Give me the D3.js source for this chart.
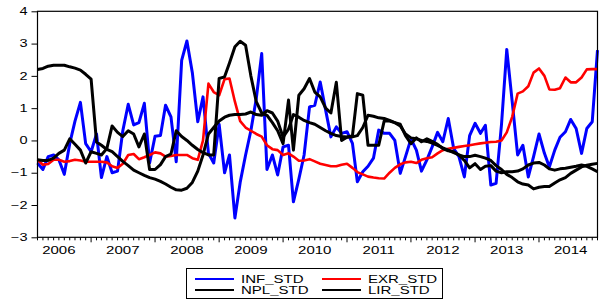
<!DOCTYPE html>
<html>
<head>
<meta charset="utf-8">
<script src="https://cdn.jsdelivr.net/npm/d3@7"></script>
<style>
  body { margin: 0; background: #fff; }
  text { font-family: "Liberation Sans", Arial, sans-serif; font-size: 10px; fill: #000; }
</style>
</head>
<body>
<div id="chart"></div>
<script>
var width = 601, height = 300

// monthly observations 2006M03 .. 2014M12
var startMonth = new Date(2006, 2, 1), endMonth = new Date(2014, 11, 1)
var months = d3.timeMonth.range(startMonth, d3.timeMonth.offset(endMonth, 1))
var yearLabels = ["2006", "2007", "2008", "2009", "2010", "2011", "2012", "2013", "2014"]
var yTicks = [-3, -2, -1, 0, 1, 2, 3, 4]

var infStd = [-0.7, -0.9, -0.5, -0.45, -0.6, -1.05, -0.1, 0.6, 1.18, -0.1,
  -0.35, 0.2, -1.15, -0.5, -1.0, -0.95, 0.3, 1.12, 0.48, 0.55,
  1.15, -0.7, 0.13, 0.15, 1.09, 0.73, -0.66, 2.48, 3.08, 2.1,
  0.58, 1.35, -0.4, -0.7, 0.5, -1.0, -0.45, -2.4, -1.3, -0.45,
  0.3, 1.3, 2.69, -0.9, -0.45, -1.07, -0.2, -0.15, -1.9, -1.2,
  -0.45, 1.04, 1.09, 1.81, 0.94, 0.11, 0.42, 0.22, 0.27, -0.09,
  -1.28, -0.97, -0.8, -0.55, 0.32, 0.22, 0.22, 0.0, -1.02, -0.5,
  0.05, -0.3, -0.95, -0.6, -0.2, 0.25, -0.04, 0.68, -0.25, -0.5,
  -1.13, 0.15, 0.53, 0.22, 0.47, -1.38, -1.33, 0.5, 2.82, 1.2,
  -0.45, -0.15, -1.13, -0.5, 0.2, -0.4, -0.82, -0.3, 0.1, 0.27,
  0.65, 0.37, -0.4, 0.37, 0.58, 2.8]

var exrStd = [-0.6, -0.75, -0.73, -0.6, -0.6, -0.66, -0.64, -0.6, -0.62, -0.66,
  -0.66, -0.66, -0.66, -0.68, -0.8, -0.85, -0.72, -0.45, -0.42, -0.58,
  -0.52, -0.45, -0.37, -0.4, -0.5, -0.48, -0.45, -0.45, -0.45, -0.55,
  -0.6, 0.0, 1.76, 1.5, 1.4, 1.9, 1.92, 1.2, 0.6, 0.4,
  0.3, 0.2, 0.12, -0.15, -0.27, -0.3, -0.45, -0.4, -0.5, -0.63,
  -0.62, -0.58, -0.65, -0.72, -0.76, -0.8, -0.8, -0.75, -0.72, -0.85,
  -0.98, -1.05, -1.12, -1.15, -1.17, -1.18, -1.0, -0.85, -0.74, -0.68,
  -0.66, -0.7, -0.6, -0.55, -0.52, -0.4, -0.3, -0.26, -0.23, -0.2,
  -0.17, -0.15, -0.12, -0.09, -0.07, -0.05, -0.04, 0.0, 0.25, 0.73,
  1.45, 1.52, 1.68, 2.1, 2.23, 2.0, 1.58, 1.57, 1.62, 1.95,
  1.8, 1.8, 1.95, 2.2, 2.21, 2.21]

var nplStd = [-0.6, -0.62, -0.62, -0.55, -0.4, -0.3, 0.05, -0.12, -0.3, -0.7,
  -0.35, -0.4, -0.45, -0.25, 0.45, 0.25, 0.12, 0.3, 0.2, -0.2,
  0.2, -0.9, -0.9, -0.75, -0.5, -0.42, 0.3, 0.12, 0.0, -0.15,
  -0.28, -0.38, -0.45, -0.45, 1.92, 1.97, 2.4, 2.9, 3.07, 2.95,
  2.0, 1.2, 0.85, 0.78, 0.55, 0.3, -0.1, 1.25, -0.3, 1.4,
  1.6, 1.92, 1.5, 1.35, 1.0, 0.85, 1.8, 0.0, 0.1, 0.15,
  1.45, 1.4, -0.15, -0.15, -0.15, 0.6, 0.6, 0.55, 0.5, 0.15,
  -0.1, 0.08, -0.04, 0.05, -0.03, -0.12, -0.25, -0.32, -0.35, -0.45,
  -0.62, -0.85, -0.72, -0.9, -0.8, -0.78, -0.95, -1.0, -0.97, -0.97,
  -0.95, -0.88, -0.76, -0.7, -0.68, -0.76, -0.88, -0.92, -0.88, -0.86,
  -0.83, -0.8, -0.76, -0.8, -0.88, -0.97]

var lirStd = [2.2, 2.23, 2.3, 2.33, 2.33, 2.33, 2.28, 2.24, 2.18, 2.05,
  1.9, -0.05, -0.15, -0.28, -0.35, -0.5, -0.65, -0.78, -0.92, -1.0,
  -1.08, -1.15, -1.2, -1.27, -1.35, -1.45, -1.53, -1.54, -1.48, -1.3,
  -0.95, -0.45, 0.2, 0.4, 0.6, 0.72, 0.78, 0.8, 0.8, 0.82,
  0.88, 0.8, 0.78, 0.92, 0.85, 0.6, 0.1, 0.35, 0.8, 0.72,
  0.62, 0.55, 0.5, 0.4, 0.3, 0.22, 0.15, 0.12, 0.11, 0.11,
  0.15, 0.4, 0.78, 0.75, 0.7, 0.68, 0.62, 0.55, 0.45, 0.2,
  0.08, 0.05, 0.0, -0.03, -0.08, -0.15, -0.23, -0.3, -0.38, -0.45,
  -0.5, -0.5, -0.46, -0.5, -0.55, -0.62, -0.78, -0.9, -1.05, -1.15,
  -1.28, -1.35, -1.38, -1.5, -1.45, -1.43, -1.43, -1.32, -1.22, -1.15,
  -1.02, -0.92, -0.82, -0.77, -0.74, -0.71]

var seriesNames = ["INF_STD", "EXR_STD", "NPL_STD", "LIR_STD"]
var seriesColors = ["#0000ff", "#ff0000", "#000000", "#000000"]
var seriesValues = [infStd, exrStd, nplStd, lirStd]

// text in the source is stretched sideways
function stretch(sel, k) {
  sel.each(function() {
    var w = this.getComputedTextLength()
    d3.select(this).attr("textLength", w * k).attr("lengthAdjust", "spacingAndGlyphs")
  })
}

var svg = d3.select("#chart").append("svg")
    .attr("width", width)
    .attr("height", height)

var x = d3.scaleTime()
    .domain([startMonth, endMonth])
    .range([37.5, 597.5])
var y = d3.scaleLinear()
    .domain([-3, 4])
    .range([237.3, 11.3])

// y axis
var yAxis = svg.append("g")
    .attr("transform", "translate(37.5,0)")
    .call(d3.axisLeft(y).tickValues(yTicks).tickSize(6).tickPadding(4).tickFormat(d3.format("d")))
yAxis.select(".domain").remove()
yAxis.selectAll("line").attr("stroke", "#000")
yAxis.selectAll("text").style("font-size", "10px").style("font-family", "Liberation Sans, Arial")
    .call(stretch, 1.45)

// x axis: monthly minor ticks, yearly major ticks
var xAxis = svg.append("g").attr("transform", "translate(0,237.3)")
xAxis.selectAll(".minor")
    .data(months)
    .enter().append("line")
    .attr("x1", function(d) { return x(d) })
    .attr("x2", function(d) { return x(d) })
    .attr("y1", 0)
    .attr("y2", function(d) { return d.getMonth() == 0 ? 5 : 3 })
    .attr("stroke", "#000")
    .attr("stroke-width", 1)
xAxis.selectAll(".yearLabel")
    .data(yearLabels)
    .enter().append("text")
    .attr("x", function(d) { return x(new Date(+d, 6, 1)) })
    .attr("y", 16.5)
    .attr("text-anchor", "middle")
    .text(function(d) { return d })
    .call(stretch, 1.5)

// series
var line = d3.line()
    .x(function(d, i) { return x(months[i]) })
    .y(function(d) { return y(d) })

svg.append("g")
    .selectAll("path")
    .data(seriesValues)
    .enter().append("path")
    .attr("d", line)
    .attr("fill", "none")
    .attr("stroke", function(d, i) { return seriesColors[i] })
    .attr("stroke-width", function(d, i) { return i == 1 ? 2.6 : 3 })
    .attr("stroke-linejoin", "round")

// plot frame
svg.append("rect")
    .attr("x", 37.5).attr("y", 11.3)
    .attr("width", 560).attr("height", 226)
    .attr("fill", "none")
    .attr("stroke", "#000")
    .attr("stroke-width", 1.2)

// legend
var legend = svg.append("g").attr("class", "legend")
legend.append("rect")
    .attr("x", 186.5).attr("y", 268.5)
    .attr("width", 256).attr("height", 30)
    .attr("fill", "#fff")
    .attr("stroke", "#000")
    .attr("stroke-width", 1)
var legItems = legend.selectAll(".item")
    .data(seriesNames)
    .enter().append("g")
    .attr("transform", function(d, i) {
      return "translate(" + (i % 2 == 0 ? 195 : 322) + "," + (i < 2 ? 279 : 290) + ")"
    })
legItems.append("line")
    .attr("x1", 0).attr("x2", 39)
    .attr("stroke", function(d, i) { return seriesColors[i] })
    .attr("stroke-width", 1.8)
legItems.append("text")
    .attr("x", 46)
    .attr("y", 3.6)
    .text(function(d) { return d })
    .call(stretch, 1.5)
</script>
</body>
</html>
